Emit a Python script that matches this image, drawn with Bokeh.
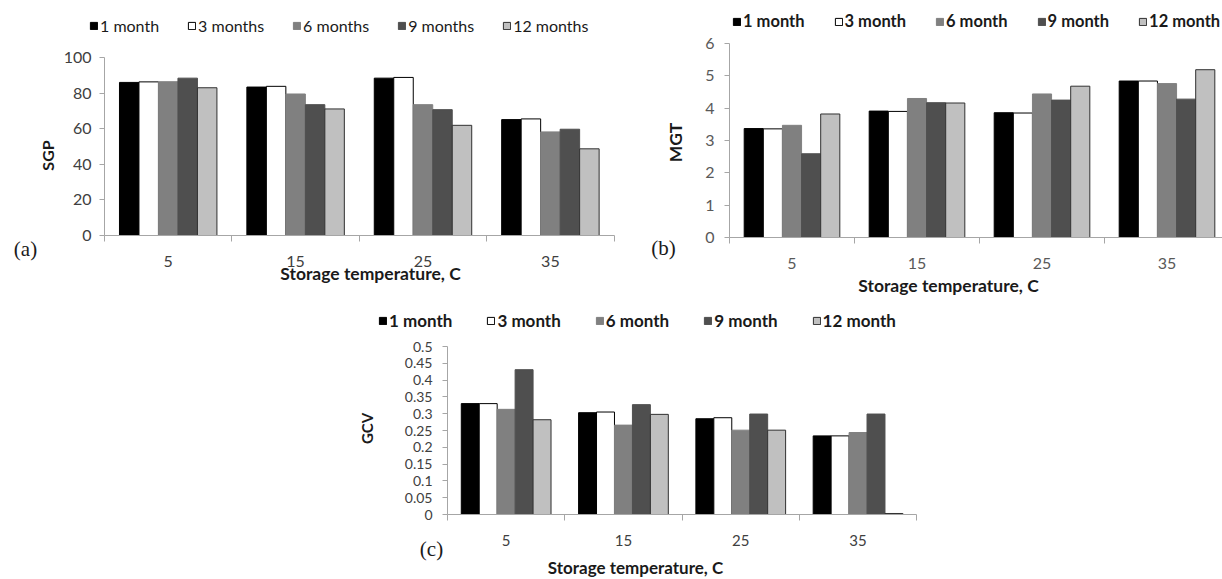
import numpy as np
from bokeh.plotting import figure
from bokeh.models import (FixedTicker, Legend, LegendItem, Label, Range1d, Spacer,
                          ColumnDataSource, LinearAxis)
from bokeh.layouts import column, row
from bokeh.transform import dodge
from bokeh.embed import file_html
from bokeh.resources import INLINE

# ---------------- data ----------------
temps = ["5", "15", "25", "35"]
xpos = [0.5, 1.5, 2.5, 3.5]

sgp_1 = [86.0, 83.4, 88.4, 65.1]
sgp_3 = [86.3, 83.8, 88.8, 65.5]
sgp_6 = [86.4, 79.5, 73.5, 58.2]
sgp_9 = [88.4, 73.5, 70.7, 59.7]
sgp_12 = [83.0, 71.1, 61.9, 48.7]

mgt_1 = [3.37, 3.91, 3.86, 4.84]
mgt_3 = [3.36, 3.90, 3.85, 4.84]
mgt_6 = [3.47, 4.30, 4.44, 4.76]
mgt_9 = [2.59, 4.17, 4.25, 4.28]
mgt_12 = [3.82, 4.16, 4.68, 5.19]

gcv_1 = [0.330, 0.303, 0.285, 0.234]
gcv_3 = [0.330, 0.305, 0.288, 0.234]
gcv_6 = [0.313, 0.266, 0.251, 0.244]
gcv_9 = [0.431, 0.327, 0.299, 0.299]
gcv_12 = [0.282, 0.298, 0.251, 0.003]

labels_a = ["1 month", "3 months", "6 months", "9 months", "12 months"]
labels_bc = ["1 month", "3 month", "6 month", "9 month", "12 month"]

sgp_ticks = [0, 20, 40, 60, 80, 100]
mgt_ticks = [0, 1, 2, 3, 4, 5, 6]
gcv_ticks = [0, 0.05, 0.1, 0.15, 0.2, 0.25, 0.3, 0.35, 0.4, 0.45, 0.5]

# ---------------- styles ----------------
fills = ["#000000", "#ffffff", "#808080", "#4f4f4f", "#c0c0c0"]
lines = ["#000000", "#000000", "#808080", "#4f4f4f", "#303030"]
BAR_W = 0.153
AXIS_COL = "#a6a6a6"
FONT = "Lato"


def make_panel(series, labels, yticks, ymax, W, H, x0, catpx, y0, ypu,
               leg, tick_size, tick_col, xlab_size, ystandoff, xstandoff):
    # frame covers the whole figure; axes are drawn at fixed data locations
    xr = Range1d(-x0 / catpx, (W - x0) / catpx)
    yr = Range1d(-(H - y0) / ypu, y0 / ypu)
    p = figure(width=W, height=H, x_range=xr, y_range=yr,
               output_backend="svg", toolbar_location=None,
               x_axis_location=None, y_axis_location=None,
               min_border=0)
    p.title.visible = False
    p.outline_line_color = None
    p.grid.visible = False
    p.background_fill_color = None
    p.border_fill_color = None

    src = ColumnDataSource(dict(x=xpos, **{f"s{i}": s for i, s in enumerate(series)}))
    rends = []
    for i in range(5):
        r = p.vbar(x=dodge("x", (i - 2) * BAR_W, range=p.x_range), top=f"s{i}",
                   width=BAR_W, source=src, fill_color=fills[i], line_color=lines[i],
                   line_width=1)
        rends.append(r)

    xa = LinearAxis(fixed_location=0, bounds=(0, 4))
    xa.ticker = FixedTicker(ticks=xpos, minor_ticks=[0, 1, 2, 3, 4])
    xa.major_label_overrides = {x: t for x, t in zip(xpos, temps)}
    xa.major_tick_out = 0
    xa.major_tick_in = 0
    xa.minor_tick_out = 6
    xa.minor_tick_in = 0
    xa.minor_tick_line_color = AXIS_COL
    xa.axis_line_color = AXIS_COL
    xa.major_label_text_font = FONT
    xa.major_label_text_font_size = xlab_size
    xa.major_label_text_color = tick_col
    xa.major_label_standoff = xstandoff
    p.add_layout(xa, "below")

    ya = LinearAxis(fixed_location=0, bounds=(0, ymax))
    ya.ticker = FixedTicker(ticks=yticks, minor_ticks=[])
    ya.major_label_overrides = {t: f"{t:g}" for t in yticks}
    ya.major_tick_out = 5
    ya.major_tick_in = 0
    ya.major_tick_line_color = AXIS_COL
    ya.axis_line_color = AXIS_COL
    ya.major_label_text_font = FONT
    ya.major_label_text_font_size = tick_size
    ya.major_label_text_color = tick_col
    ya.major_label_standoff = ystandoff
    p.add_layout(ya, "left")

    lx, ly, lsize, lstyle, lspacing = leg
    legend = Legend(items=[LegendItem(label=lab, renderers=[r]) for lab, r in zip(labels, rends)],
                    orientation="horizontal", location=(lx, ly), glyph_width=9,
                    glyph_height=9, label_standoff=2, spacing=lspacing, padding=0,
                    margin=0, border_line_color=None, background_fill_alpha=0,
                    label_text_font=FONT, label_text_font_size=lsize,
                    label_text_font_style=lstyle, label_text_color="#1a1a1a")
    p.add_layout(legend)
    return p


def add_label(p, text, x, y, font, size, style="normal", angle=0.0, color="#1a1a1a"):
    p.add_layout(Label(x=x, y=y, x_units="screen", y_units="screen", text=text,
                       text_font=font, text_font_size=size, text_font_style=style,
                       angle=angle, text_align="center", text_baseline="middle",
                       text_color=color))


# ---------------- panel (a) ----------------
HA = 300
pa = make_panel([sgp_1, sgp_3, sgp_6, sgp_9, sgp_12], labels_a, sgp_ticks, 100,
                W=616, H=HA, x0=104, catpx=127.4, y0=235, ypu=1.78,
                leg=(89, HA - 35, "16px", "normal", 28),
                tick_size="16px", tick_col="#404040",
                xlab_size="16px", ystandoff=8, xstandoff=14)
add_label(pa, "SGP", 47, HA - 155, FONT, "16px", "bold", np.pi / 2)
add_label(pa, "Storage temperature, C", 370, HA - 273, FONT, "17.5px", "bold")
add_label(pa, "(a)", 25, HA - 248, "Liberation Serif", "21px")

# ---------------- panel (b) ----------------
HB = 300
pb = make_panel([mgt_1, mgt_3, mgt_6, mgt_9, mgt_12], labels_bc, mgt_ticks, 6,
                W=606, H=HB, x0=113, catpx=125, y0=237, ypu=32.33,
                leg=(116, HB - 31, "16.5px", "bold", 29),
                tick_size="16px", tick_col="#595959",
                xlab_size="16px", ystandoff=10, xstandoff=14)
add_label(pb, "MGT", 59, HB - 142, FONT, "17.5px", "bold", np.pi / 2)
add_label(pb, "Storage temperature, C", 332, HB - 285, FONT, "17.5px", "bold")
add_label(pb, "(b)", 47, HB - 247, "Liberation Serif", "21px")

# ---------------- panel (c) ----------------
HC = 278
pc = make_panel([gcv_1, gcv_3, gcv_6, gcv_9, gcv_12], labels_bc, gcv_ticks, 0.5,
                W=610, H=HC, x0=117, catpx=117.3, y0=214, ypu=336,
                leg=(48, HC - 31, "17px", "bold", 34),
                tick_size="14px", tick_col="#404040",
                xlab_size="15px", ystandoff=10, xstandoff=14)
add_label(pc, "GCV", 36, HC - 128, FONT, "15px", "bold", np.pi / 2)
add_label(pc, "Storage temperature, C", 305, HC - 267, FONT, "17px", "bold")
add_label(pc, "(c)", 101, HC - 248, "Liberation Serif", "21px")

layout = column(row(pa, pb), row(Spacer(width=330, height=10), pc))

open("out.html", "w").write(file_html(layout, INLINE))
